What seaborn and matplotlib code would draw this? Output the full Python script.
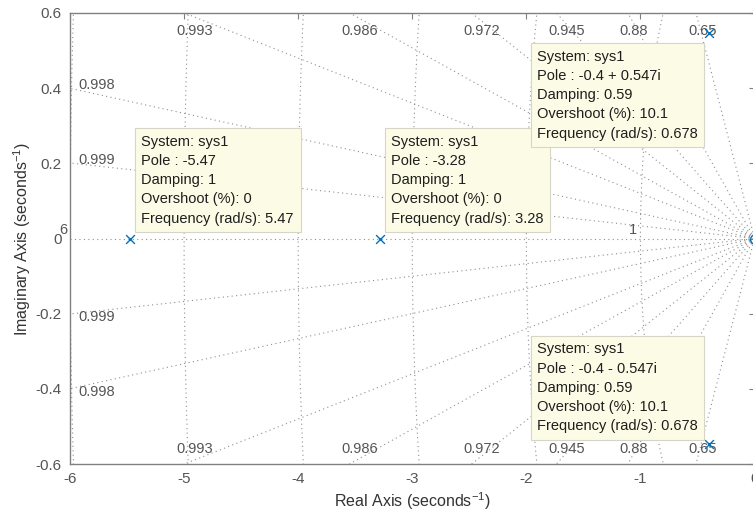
import numpy as np
import matplotlib
matplotlib.use("Agg")
import matplotlib.pyplot as plt
import seaborn as sns

# ---------------- data ----------------
pole_re = [-5.47, -3.28, -0.4, -0.4]
pole_im = [0.0, 0.0, 0.547, -0.547]
zero_re = [0.0]
zero_im = [0.0]

# damping-ratio rays of the s-plane grid (labels shown rounded to 3 digits)
damping = [0.99944, 0.99779, 0.99287, 0.98601, 0.97196, 0.94508, 0.87971, 0.64985]
# natural-frequency circles
wn_circles = [1, 2, 3, 4, 5, 6]
wn_labelled = [1, 6]

xticks = [-6, -5, -4, -3, -2, -1, 0]
yticks = [-0.6, -0.4, -0.2, 0, 0.2, 0.4, 0.6]
xtick_labels = ["-6", "-5", "-4", "-3", "-2", "-1", "0"]
ytick_labels = ["-0.6", "-0.4", "-0.2", "0", "0.2", "0.4", "0.6"]

tip_system = ["sys1", "sys1", "sys1", "sys1"]
tip_pole = ["-5.47", "-3.28", "-0.4 + 0.547i", "-0.4 - 0.547i"]
tip_damping = ["1", "1", "0.59", "0.59"]
tip_overshoot = ["0", "0", "10.1", "10.1"]
tip_freq = ["5.47", "3.28", "0.678", "0.678"]

xlabel = "Real Axis (seconds$^{-1}$)"
ylabel = "Imaginary Axis (seconds$^{-1}$)"

# ---------------- style ----------------
sns.set_theme(style="white")
plt.rcParams["font.family"] = ["Liberation Sans", "DejaVu Sans"]
plt.rcParams["mathtext.default"] = "regular"
plt.rcParams["axes.unicode_minus"] = False

BLUE = "#0072BD"
GRID = "#8f8f8f"
LBL = "#555555"
FS = 10.5

fig = plt.figure(figsize=(7.53, 5.17), dpi=100)
ax = fig.add_axes([70 / 753, 1 - 464 / 517, 684.5 / 753, 451 / 517])
xmin, xmax, ymin, ymax = -6, 0, -0.6, 0.6
ax.set_xlim(xmin, xmax)
ax.set_ylim(ymin, ymax)

dots = (0, (1, 3))
# real axis (zeta = 1)
ax.plot([xmin, xmax], [0, 0], color=GRID, lw=0.8, ls=dots, zorder=1)
# damping rays
for z in damping:
    s = np.sqrt(1 - z ** 2)
    for sgn in (1, -1):
        ax.plot([0, -20 * z], [0, sgn * 20 * s], color=GRID, lw=0.8, ls=dots, zorder=1)
    tanv = s / z
    lab = "%.3g" % z
    yl = -xmin * tanv
    if yl <= ymax:
        ax.annotate(lab, xy=(xmin, yl), xytext=(8, 3), textcoords="offset pixels",
                    ha="left", va="center", fontsize=FS, color=LBL, zorder=2)
        ax.annotate(lab, xy=(xmin, -yl), xytext=(8, -3), textcoords="offset pixels",
                    ha="left", va="center", fontsize=FS, color=LBL, zorder=2)
    else:
        xt = -ymax / tanv
        ax.annotate(lab, xy=(xt, ymax), xytext=(-8, -18), textcoords="offset pixels",
                    ha="left", va="center", fontsize=FS, color=LBL, zorder=2)
        ax.annotate(lab, xy=(xt, ymin), xytext=(-8, 15), textcoords="offset pixels",
                    ha="left", va="center", fontsize=FS, color=LBL, zorder=2)

# natural frequency circles
t = np.linspace(-np.pi / 2, np.pi / 2, 400)
for w in wn_circles:
    ax.plot(-w * np.cos(t), w * np.sin(t), color=GRID, lw=0.8, ls=dots, zorder=1)
for w in wn_labelled:
    ax.annotate(str(w), xy=(-w, 0), xytext=(-3, 2), textcoords="offset pixels",
                ha="right", va="bottom", fontsize=FS, color=LBL, zorder=2,
                annotation_clip=False)

# poles and zero
sns.scatterplot(x=pole_re, y=pole_im, marker="x", color=BLUE, s=40, linewidth=1.0,
                ax=ax, zorder=5, clip_on=False, legend=False)
ax.plot(zero_re, zero_im, "o", mfc="none", mec=BLUE, ms=7, mew=1.0, clip_on=False, zorder=5)
ax.plot(zero_re, zero_im, "o", mfc="none", mec=BLUE, ms=3, mew=0.8, clip_on=False, zorder=5)

# data tips
box = dict(boxstyle="square,pad=0.45", fc="#fcfce6", ec="#d6d6c8", lw=0.8)
placements = [
    ((11, 13), "left", "bottom"),
    ((11, 13), "left", "bottom"),
    ((-11, -17), "right", "top"),
    ((-11, 11), "right", "bottom"),
]
for i in range(len(pole_re)):
    txt = "\n".join([
        "System: " + tip_system[i],
        "Pole : " + tip_pole[i],
        "Damping: " + tip_damping[i],
        "Overshoot (%): " + tip_overshoot[i],
        "Frequency (rad/s): " + tip_freq[i],
    ])
    (dx, dy), ha, va = placements[i]
    ax.annotate(txt, xy=(pole_re[i], pole_im[i]), xytext=(dx, dy), textcoords="offset pixels",
                ha=ha, va=va, multialignment="left", fontsize=FS, color="#1e1e1e",
                linespacing=1.47, bbox=box, zorder=6)

# axes cosmetics
ax.set_xticks(xticks)
ax.set_xticklabels(xtick_labels)
ax.set_yticks(yticks)
ax.set_yticklabels(ytick_labels)
ax.tick_params(direction="in", length=4, width=0.8, color="#808080", labelcolor=LBL,
               labelsize=FS + 0.5, top=True, right=True, pad=6)
for sp in ax.spines.values():
    sp.set_color("#808080")
    sp.set_linewidth(1.0)
ax.set_xlabel(xlabel, fontsize=FS + 1, color="#333333", labelpad=3)
ax.set_ylabel(ylabel, fontsize=FS + 1, color="#333333", labelpad=2)

fig.savefig("out.png", dpi=100, facecolor="white")
